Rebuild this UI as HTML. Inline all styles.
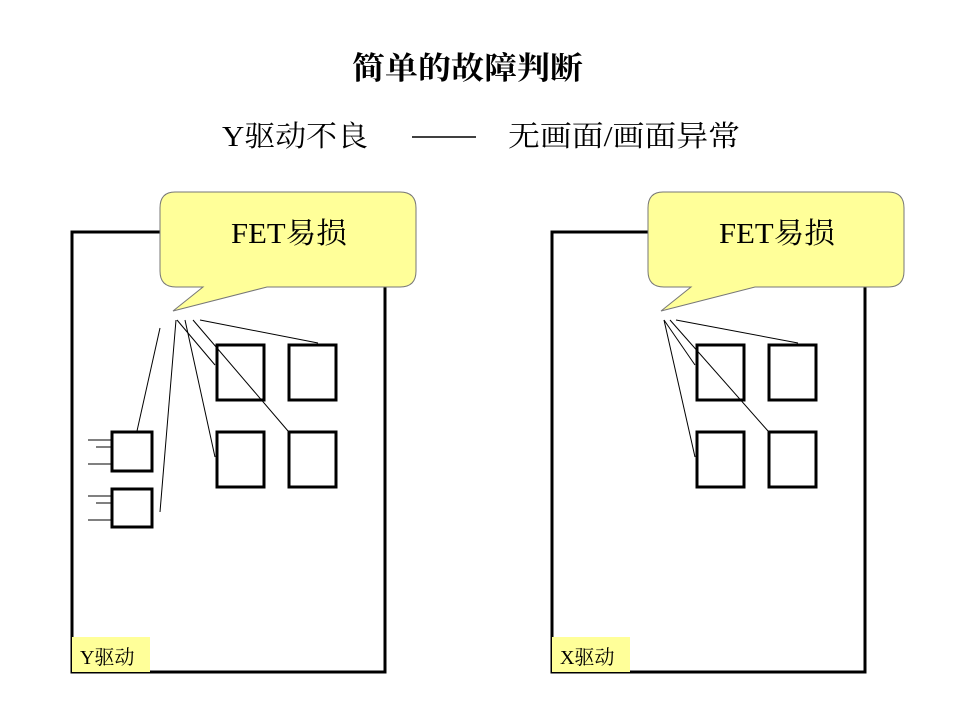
<!DOCTYPE html>
<html><head><meta charset="utf-8"><style>body{margin:0;background:#fff}svg{display:block}</style></head><body>
<svg width="960" height="720" xmlns="http://www.w3.org/2000/svg" font-family="'Liberation Serif','Noto Serif CJK SC',serif">
<text x="352" y="79" font-size="31" font-weight="bold" textLength="231" lengthAdjust="spacingAndGlyphs">简单的故障判断</text>
<text x="222" y="146" font-size="29" textLength="146" lengthAdjust="spacingAndGlyphs">Y驱动不良</text>
<line x1="412" y1="137" x2="476" y2="137" stroke="#000" stroke-width="1.5"/>
<text x="508" y="146" font-size="29" textLength="232" lengthAdjust="spacingAndGlyphs">无画面/画面异常</text>
<g>
<rect x="72" y="232" width="313" height="440" fill="#fff" stroke="#000" stroke-width="3"/>
<g fill="none" stroke="#000" stroke-width="3">
<rect x="217" y="345" width="47" height="55"/><rect x="289" y="345" width="47" height="55"/>
<rect x="217" y="432" width="47" height="55"/><rect x="289" y="432" width="47" height="55"/>
</g>
<g stroke="#000" stroke-width="1">
<line x1="177" y1="320" x2="215" y2="365"/><line x1="185" y1="320" x2="215" y2="457"/>
<line x1="193" y1="320" x2="288" y2="431"/><line x1="200" y1="320" x2="318" y2="343"/>
</g>
<rect x="72" y="637" width="78" height="35" fill="#ffff99"/>
<text x="80" y="664" font-size="20">Y驱动</text>
</g>
<g id="c1">
<path d="M175,192 H400 Q416,192 416,208 V271 Q416,287 400,287 H267 L173,311 L203,287 H176 Q160,287 160,271 V208 Q160,192 175,192 Z" fill="#ffff99" stroke="#777" stroke-width="1"/>
<text x="231" y="243" font-size="29" textLength="116" lengthAdjust="spacingAndGlyphs">FET易损</text>
</g>
<g stroke="#000" stroke-width="1">
<line x1="160" y1="328" x2="137" y2="431"/><line x1="176" y1="320" x2="160" y2="512"/>
<line x1="88" y1="440" x2="112" y2="440"/><line x1="96" y1="447" x2="112" y2="447"/><line x1="88" y1="464" x2="112" y2="464"/>
<line x1="88" y1="496" x2="112" y2="496"/><line x1="96" y1="503" x2="112" y2="503"/><line x1="88" y1="520" x2="112" y2="520"/>
</g>
<g fill="none" stroke="#000" stroke-width="3">
<rect x="112" y="432" width="40" height="39"/><rect x="112" y="489" width="40" height="38"/>
</g>
<g transform="translate(480,0)">
<rect x="72" y="232" width="313" height="440" fill="#fff" stroke="#000" stroke-width="3"/>
<g fill="none" stroke="#000" stroke-width="3">
<rect x="217" y="345" width="47" height="55"/><rect x="289" y="345" width="47" height="55"/>
<rect x="217" y="432" width="47" height="55"/><rect x="289" y="432" width="47" height="55"/>
</g>
<g stroke="#000" stroke-width="1">
<line x1="184" y1="320" x2="215" y2="365"/><line x1="184" y1="320" x2="215" y2="457"/>
<line x1="190" y1="320" x2="288" y2="431"/><line x1="196" y1="320" x2="318" y2="343"/>
</g>
<rect x="72" y="637" width="78" height="35" fill="#ffff99"/>
<text x="80" y="664" font-size="20">X驱动</text>
</g>
<g transform="translate(488,0)">
<path d="M175,192 H400 Q416,192 416,208 V271 Q416,287 400,287 H267 L173,311 L203,287 H176 Q160,287 160,271 V208 Q160,192 175,192 Z" fill="#ffff99" stroke="#777" stroke-width="1"/>
<text x="231" y="243" font-size="29" textLength="116" lengthAdjust="spacingAndGlyphs">FET易损</text>
</g>
</svg>
</body></html>
